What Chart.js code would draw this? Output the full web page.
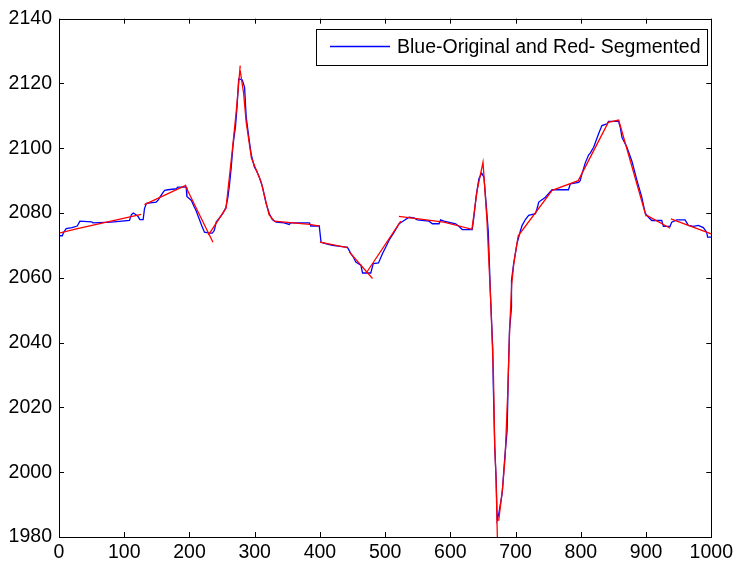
<!DOCTYPE html>
<html>
<head>
<meta charset="utf-8">
<script src="https://cdn.jsdelivr.net/npm/chart.js@4.4.1/dist/chart.umd.min.js"></script>
<style>
  body { margin: 0; background: #fff; }
  canvas { display: block; }
</style>
</head>
<body>
<canvas id="segChart" width="737" height="563"></canvas>
<script>
// ------------------ Data ------------------
const legendText = "Blue-Original and Red- Segmented";
const xTicks = [0, 100, 200, 300, 400, 500, 600, 700, 800, 900, 1000];
const yTicks = [1980, 2000, 2020, 2040, 2060, 2080, 2100, 2120, 2140];

// original signal (blue)
const blueX = [0, 5, 7, 11, 20, 28, 32, 50, 52, 80, 108, 111, 114, 118, 121, 124, 129, 131, 134, 149,
  152, 155, 159, 162, 167, 180, 182, 195, 196, 203, 207, 210, 215, 219, 223, 231, 235, 238, 241, 246,
  251, 256, 259, 261.5, 264, 266.5, 268, 270.5, 273, 275.5, 281, 284.5, 287, 291, 294.5, 299.5, 303, 307, 312, 317.5,
  322.5, 327, 333, 345, 353, 355, 368, 384, 386, 399, 401.7, 410, 419, 440, 442, 447.5, 451, 455, 462.8, 465.3,
  478, 481.7, 489.8, 496, 501, 506, 513.8, 521.4, 529, 536.7, 544, 549.4, 567.3, 572.3, 582.6, 585, 590, 608, 613, 618.2,
  633.5, 636, 639.6, 643.7, 648, 651.4, 654, 656.4, 658, 661.6, 665, 665.6, 668, 670.2, 671.7, 674.3, 679.4, 683.5, 687, 688.6,
  690.6, 693.7, 693.7, 697, 702, 707.5, 710, 715, 720, 730.4, 733, 735.5, 745.7, 755.8, 781, 783.9, 796.6, 799, 801.7, 806.8,
  812, 814.4, 819.6, 827.2, 832.3, 840, 842.5, 857.8, 860.4, 863, 870.6, 878.3, 886, 893.4, 898.6, 903.7, 908.7, 924, 926.6, 936.8,
  939.3, 947, 959.8, 964.8, 972.5, 980, 987.8, 992.8, 994.4, 1000];
const blueY = [2073, 2073, 2074, 2075.2, 2075.5, 2076, 2077.5, 2077.3, 2077, 2077.2, 2077.7, 2079.5, 2080, 2079.5, 2079, 2078, 2078, 2081.3, 2083, 2083.4,
  2084, 2085, 2086.2, 2087, 2087.2, 2087.5, 2088, 2088, 2085.1, 2083.9, 2082, 2080.8, 2078.2, 2076, 2074.1, 2073.8, 2073.8, 2074.6, 2077.2, 2078.5,
  2079.8, 2081.8, 2085, 2089, 2094, 2100.3, 2103, 2106.5, 2113, 2121.4, 2121.1, 2118.8, 2109.6, 2103.4, 2098.3, 2094.2, 2093, 2091.1, 2088, 2082.9,
  2079.8, 2078, 2077.2, 2077, 2076.5, 2077, 2077, 2077, 2076, 2076, 2071, 2070.5, 2070, 2069.5, 2069.5, 2067.5, 2066.5, 2064.9, 2063.9, 2061.5,
  2061.5, 2064.4, 2064.6, 2067.5, 2069.5, 2071.6, 2074.1, 2076.7, 2077.7, 2078.7, 2078.5, 2077.9, 2077.5, 2076.7, 2076.7, 2077.9, 2077.5, 2076.7, 2075.9, 2074.9,
  2074.9, 2078.7, 2085.4, 2090.6, 2092.3, 2091.1, 2084.9, 2078.7, 2074.6, 2054, 2037.7, 2028.4, 2007.8, 1997.6, 1985.3, 1987.3, 1993.5, 2004.8, 2013, 2028.4,
  2043.8, 2051, 2059.2, 2064.4, 2070.5, 2074.6, 2076.2, 2078, 2079.3, 2079.8, 2081.5, 2083.4, 2084.9, 2087.2, 2087.2, 2089, 2089.5, 2090, 2092.1, 2095.5,
  2098, 2098.5, 2100.3, 2104.5, 2107, 2107.5, 2108.3, 2108.3, 2106.5, 2103.4, 2100.3, 2096, 2090.1, 2084.9, 2080, 2078.7, 2077.7, 2077.7, 2075.9, 2075.9,
  2077.2, 2077.9, 2077.9, 2076.2, 2075.9, 2076.2, 2075.5, 2074.1, 2072.6, 2072.6];

// segmented fit (red), null marks a break between segments
const redX = [0, 30, 126, 126,
  131, 195, 195,
  194, 236, 236,
  229, 256, 266, 272, 277.8, 277.8,
  277.8, 283, 287, 295, 310, 322, 330,
  384, 400, 400,
  400, 442, 442,
  445, 480.6, 480.6,
  471, 524, 524,
  521, 590, 633,
  641, 650,
  656, 662, 666, 668, 670, 672, 672,
  674, 680, 684, 688, 691, 694, 697, 700, 704,
  756, 796, 842, 858,
  900, 900,
  901, 937, 937,
  938, 1000];
const redY = [2073.8, 2075.3, 2079.6, null,
  2082.6, 2088.6, null,
  2088.3, 2071, null,
  2073.2, 2081.5, 2100, 2112, 2125.5, null,
  2124, 2117, 2108, 2097, 2089.5, 2079.5, 2077.5,
  2076.5, 2076, null,
  2071, 2069.3, null,
  2068, 2059.8, null,
  2061.5, 2077.5, null,
  2079, 2077.2, 2075,
  2087, 2095.7,
  2078, 2052, 2030, 2008, 1998, 1980, null,
  1985, 1995, 2005, 2025, 2045, 2058, 2064, 2068, 2073,
  2087, 2090, 2108, 2108.7,
  2079, null,
  2079.3, 2075.3, null,
  2078.2, 2073.6];

// ------------------ Plugins ------------------
const FONT = "'Liberation Sans', Arial, sans-serif";

const matlabBox = {
  id: "matlabBox",
  afterDraw(chart) {
    const { ctx, chartArea: a, scales } = chart;
    const tl = 5;
    ctx.save();
    ctx.strokeStyle = "#000";
    ctx.lineWidth = 1;
    ctx.beginPath();
    xTicks.forEach(v => {
      const px = Math.round(scales.x.getPixelForValue(v)) + 0.5;
      ctx.moveTo(px, a.bottom); ctx.lineTo(px, a.bottom - tl);
      ctx.moveTo(px, a.top); ctx.lineTo(px, a.top + tl);
    });
    yTicks.forEach(v => {
      const py = Math.round(scales.y.getPixelForValue(v)) + 0.5;
      ctx.moveTo(a.left, py); ctx.lineTo(a.left + tl, py);
      ctx.moveTo(a.right, py); ctx.lineTo(a.right - tl, py);
    });
    ctx.stroke();
    ctx.strokeRect(Math.round(a.left) + 0.5, Math.round(a.top) + 0.5,
      Math.round(a.right - a.left), Math.round(a.bottom - a.top));

    // legend box
    const lx = 316, ly = 29, lw = 391, lh = 36;
    ctx.fillStyle = "#fff";
    ctx.fillRect(lx, ly, lw, lh);
    ctx.strokeStyle = "#000";
    ctx.strokeRect(lx + 0.5, ly + 0.5, lw, lh);
    ctx.strokeStyle = "#0000ff";
    ctx.lineWidth = 1.3;
    ctx.beginPath();
    ctx.moveTo(330, ly + 17.5); ctx.lineTo(390, ly + 17.5);
    ctx.stroke();
    ctx.fillStyle = "#000";
    ctx.font = "19.5px " + FONT;
    ctx.textBaseline = "middle";
    ctx.fillText(legendText, 397, ly + 18.5);
    ctx.restore();
  }
};

// ------------------ Chart ------------------
const blueData = blueX.map((x, i) => ({ x, y: blueY[i] }));
const redData = redX.map((x, i) => ({ x, y: redY[i] }));

new Chart(document.getElementById("segChart"), {
  type: "line",
  data: {
    datasets: [
      { label: "Original", data: blueData, borderColor: "#0000ff", borderWidth: 1.3,
        pointRadius: 0, tension: 0, order: 2 },
      { label: "Segmented", data: redData, borderColor: "#ff0000", borderWidth: 1.3,
        pointRadius: 0, tension: 0, spanGaps: false, order: 1 }
    ]
  },
  options: {
    responsive: false,
    animation: false,
    layout: { padding: { top: 18, right: 24, left: 0, bottom: 0 } },
    plugins: { legend: { display: false }, tooltip: { enabled: false } },
    scales: {
      x: {
        type: "linear", min: 0, max: 1000,
        grid: { display: false, drawTicks: false },
        border: { display: false },
        afterBuildTicks: s => { s.ticks = xTicks.map(v => ({ value: v })); },
        afterFit: s => { s.height = 26; },
        ticks: { padding: 4, color: "#000", maxRotation: 0, font: { size: 19.5, family: FONT },
          callback: v => String(v) }
      },
      y: {
        type: "linear", min: 1980, max: 2140,
        grid: { display: false, drawTicks: false },
        border: { display: false },
        afterBuildTicks: s => { s.ticks = yTicks.map(v => ({ value: v })); },
        afterFit: s => { s.width = 59; },
        ticks: { padding: 7, color: "#000", font: { size: 19.5, family: FONT },
          callback: v => String(v) }
      }
    }
  },
  plugins: [matlabBox]
});
</script>
</body>
</html>
